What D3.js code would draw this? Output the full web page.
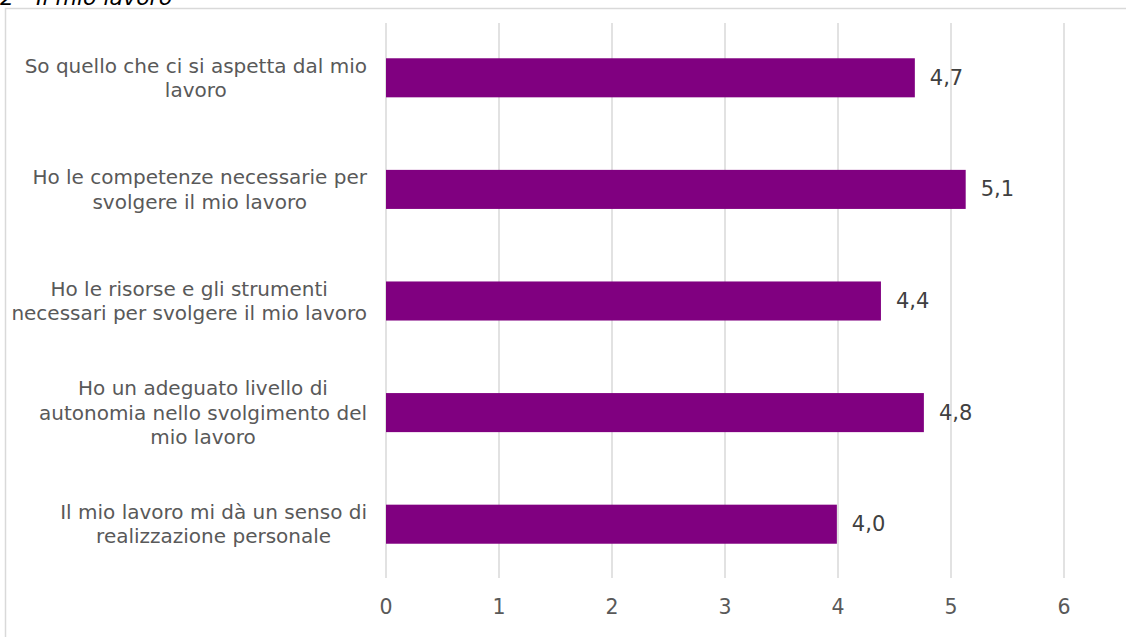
<!DOCTYPE html>
<html>
<head>
<meta charset="utf-8">
<script src="https://cdn.jsdelivr.net/npm/d3@7"></script>
<style>
  html, body { margin: 0; padding: 0; background: #fff; }
  svg { display: block; }
</style>
</head>
<body>
<svg id="chart" width="1126" height="637"></svg>
<script>
const title = "2 - Il mio lavoro";
const categories = [
  ["So quello che ci si aspetta dal mio", "lavoro"],
  ["Ho le competenze necessarie per", "svolgere il mio lavoro"],
  ["Ho le risorse e gli strumenti", "necessari per svolgere il mio lavoro"],
  ["Ho un adeguato livello di", "autonomia nello svolgimento del", "mio lavoro"],
  ["Il mio lavoro mi dà un senso di", "realizzazione personale"]
];
const values = [4.68, 5.13, 4.38, 4.76, 3.99];
const valueLabels = ["4,7", "5,1", "4,4", "4,8", "4,0"];
const xTicks = [0, 1, 2, 3, 4, 5, 6];

const svg = d3.select("#chart");
const font = "'DejaVu Sans', Verdana, sans-serif";
const textColor = "#595959";

// chart border
svg.append("rect")
  .attr("x", 5.5).attr("y", 8.5)
  .attr("width", 1140).attr("height", 660)
  .attr("fill", "none").attr("stroke", "#d9d9d9").attr("stroke-width", 1.5);

// title (partly cut off at top)
svg.append("text")
  .attr("x", 0).attr("y", 5)
  .attr("font-family", font).attr("font-style", "italic")
  .attr("font-size", 22).attr("fill", "#000")
  .text(title);

const x = d3.scaleLinear().domain([0, 6]).range([386, 1064]);
const idx = categories.map((d, i) => i);
const y = d3.scaleBand().domain(idx).range([22, 580]).paddingInner(0.65).paddingOuter(0.325);

// gridlines
svg.append("g").selectAll("line").data(xTicks).join("line")
  .attr("x1", d => x(d)).attr("x2", d => x(d))
  .attr("y1", 23).attr("y2", 578)
  .attr("stroke", "#d9d9d9").attr("stroke-width", 1.5);

// bars
svg.append("g").selectAll("rect").data(values).join("rect")
  .attr("x", x(0))
  .attr("y", (d, i) => y(i))
  .attr("width", d => x(d) - x(0))
  .attr("height", y.bandwidth())
  .attr("fill", "#800080");

// value labels
svg.append("g").selectAll("text").data(values).join("text")
  .attr("x", d => x(d) + 15)
  .attr("y", (d, i) => y(i) + y.bandwidth() / 2)
  .attr("dominant-baseline", "central")
  .attr("font-family", font).attr("font-size", 21)
  .attr("fill", "#404040")
  .text((d, i) => valueLabels[i]);

// x tick labels
svg.append("g").selectAll("text").data(xTicks).join("text")
  .attr("x", d => x(d)).attr("y", 607)
  .attr("text-anchor", "middle").attr("dominant-baseline", "central")
  .attr("font-family", font).attr("font-size", 20.5)
  .attr("fill", textColor)
  .text(d => d);

// category labels
const lineH = 24.5;
const rightEdge = 367;
const catG = svg.append("g");
categories.forEach((lines, i) => {
  const g = catG.append("g");
  const cy = y(i) + y.bandwidth() / 2;
  const texts = lines.map((ln, j) => g.append("text")
    .attr("y", cy + (j - (lines.length - 1) / 2) * lineH)
    .attr("dominant-baseline", "central")
    .attr("text-anchor", "middle")
    .attr("font-family", font).attr("font-size", 20)
    .attr("fill", textColor)
    .text(ln));
  const maxW = d3.max(texts, t => t.node().getComputedTextLength());
  texts.forEach(t => t.attr("x", rightEdge - maxW / 2));
});
</script>
</body>
</html>
